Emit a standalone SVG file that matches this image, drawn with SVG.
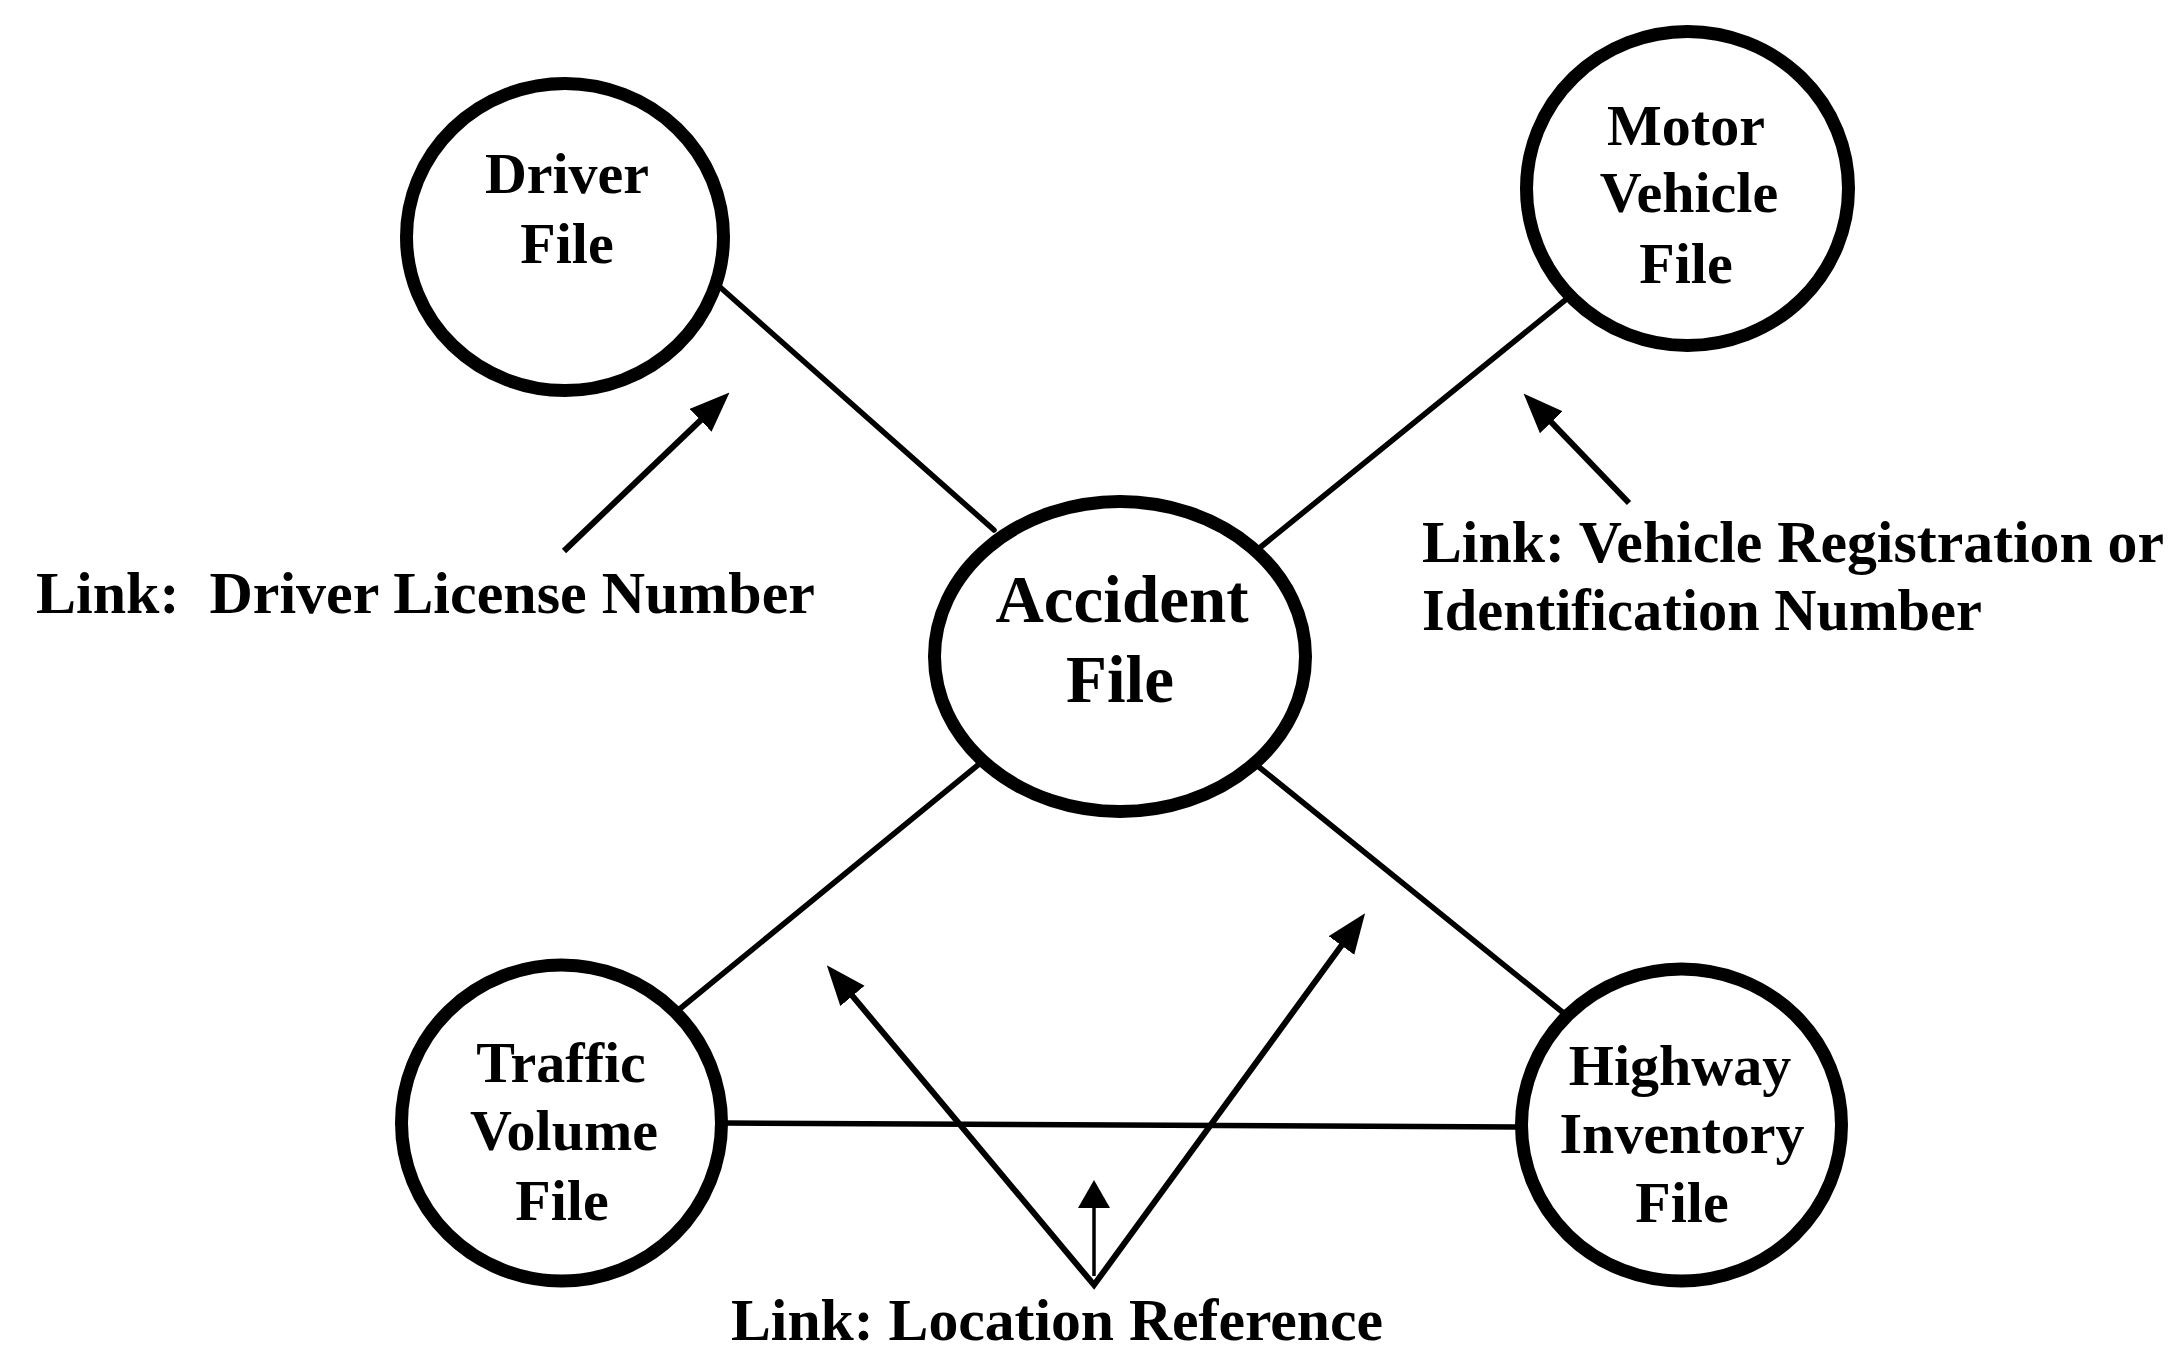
<svg xmlns="http://www.w3.org/2000/svg" width="2181" height="1352" viewBox="0 0 2181 1352">
<style>
.ring{fill:#fff;stroke:#000;stroke-width:13}
.conn{stroke:#000;stroke-width:5.5;fill:none;stroke-linecap:round}
.arr{stroke:#000;stroke-width:6;fill:none;stroke-linejoin:miter}
.thin{stroke:#000;stroke-width:3.5;fill:none}
.nt{font-family:"Liberation Serif","Times New Roman",serif;font-weight:bold;font-size:58px;text-anchor:middle;fill:#000}
.big{font-size:67px}
.lbl{font-family:"Liberation Serif","Times New Roman",serif;font-weight:bold;font-size:60px;fill:#000;white-space:pre}
</style>
<defs>
<marker id="ah" markerUnits="userSpaceOnUse" markerWidth="40" markerHeight="32" viewBox="0 0 38 30" refX="10" refY="15" orient="auto">
<path d="M0,0 L38,15 L0,30 z" fill="#000"/>
</marker>
<marker id="ahs" markerUnits="userSpaceOnUse" markerWidth="40" markerHeight="32" viewBox="0 0 38 30" refX="10" refY="15" orient="auto-start-reverse">
<path d="M0,0 L38,15 L0,30 z" fill="#000"/>
</marker>
<marker id="ahm" markerUnits="userSpaceOnUse" markerWidth="30" markerHeight="32" viewBox="0 0 28 32" refX="8" refY="16" orient="auto">
<path d="M0,0 L28,16 L0,32 z" fill="#000"/>
</marker>
</defs>
<g id="connectors">
<line class="conn" x1="721" y1="288" x2="994" y2="530"/>
<line class="conn" x1="1569" y1="297" x2="1257" y2="550"/>
<line class="conn" x1="984" y1="760" x2="676" y2="1012"/>
<line class="conn" x1="1259" y1="767" x2="1566" y2="1015"/>
<line class="conn" x1="724" y1="1123" x2="1519" y2="1127"/>
<line class="arr" x1="564" y1="551" x2="708.2" y2="413" marker-end="url(#ah)"/>
<line class="arr" x1="1629" y1="503" x2="1544" y2="414.7" marker-end="url(#ah)"/>
<path class="arr" d="M845.7,987.9 L1094,1285 L1347.7,937" marker-start="url(#ahs)" marker-end="url(#ah)"/>
<line class="thin" x1="1094" y1="1276" x2="1094" y2="1200" marker-end="url(#ahm)"/>
</g>
<g id="driver-file">
<ellipse class="ring" cx="565" cy="237" rx="158.5" ry="153.5"/>
<text class="nt" x="567" y="193">Driver</text>
<text class="nt" x="567" y="263">File</text>
</g>
<g id="motor-vehicle-file">
<ellipse class="ring" cx="1687.5" cy="188.5" rx="161" ry="157"/>
<text class="nt" x="1686" y="145">Motor</text>
<text class="nt" x="1689" y="212">Vehicle</text>
<text class="nt" x="1686" y="283">File</text>
</g>
<g id="accident-file">
<ellipse class="ring" cx="1120" cy="656.5" rx="185.5" ry="155"/>
<text class="nt big" x="1122" y="622">Accident</text>
<text class="nt big" x="1120" y="702">File</text>
</g>
<g id="traffic-volume-file">
<ellipse class="ring" cx="561.5" cy="1123" rx="160" ry="158"/>
<text class="nt" x="561" y="1082">Traffic</text>
<text class="nt" x="564" y="1150">Volume</text>
<text class="nt" x="562" y="1220">File</text>
</g>
<g id="highway-inventory-file">
<ellipse class="ring" cx="1681.5" cy="1125" rx="160" ry="156"/>
<text class="nt" x="1680" y="1085">Highway</text>
<text class="nt" x="1682" y="1153">Inventory</text>
<text class="nt" x="1682" y="1222">File</text>
</g>
<g id="labels">
<text class="lbl" x="36" y="613" textLength="779" lengthAdjust="spacingAndGlyphs">Link:  Driver License Number</text>
<text class="lbl" x="1422" y="562" textLength="742" lengthAdjust="spacingAndGlyphs">Link: Vehicle Registration or</text>
<text class="lbl" x="1422" y="630" textLength="560" lengthAdjust="spacingAndGlyphs">Identification Number</text>
<text class="lbl" x="731" y="1340" textLength="652" lengthAdjust="spacingAndGlyphs">Link: Location Reference</text>
</g>
</svg>
